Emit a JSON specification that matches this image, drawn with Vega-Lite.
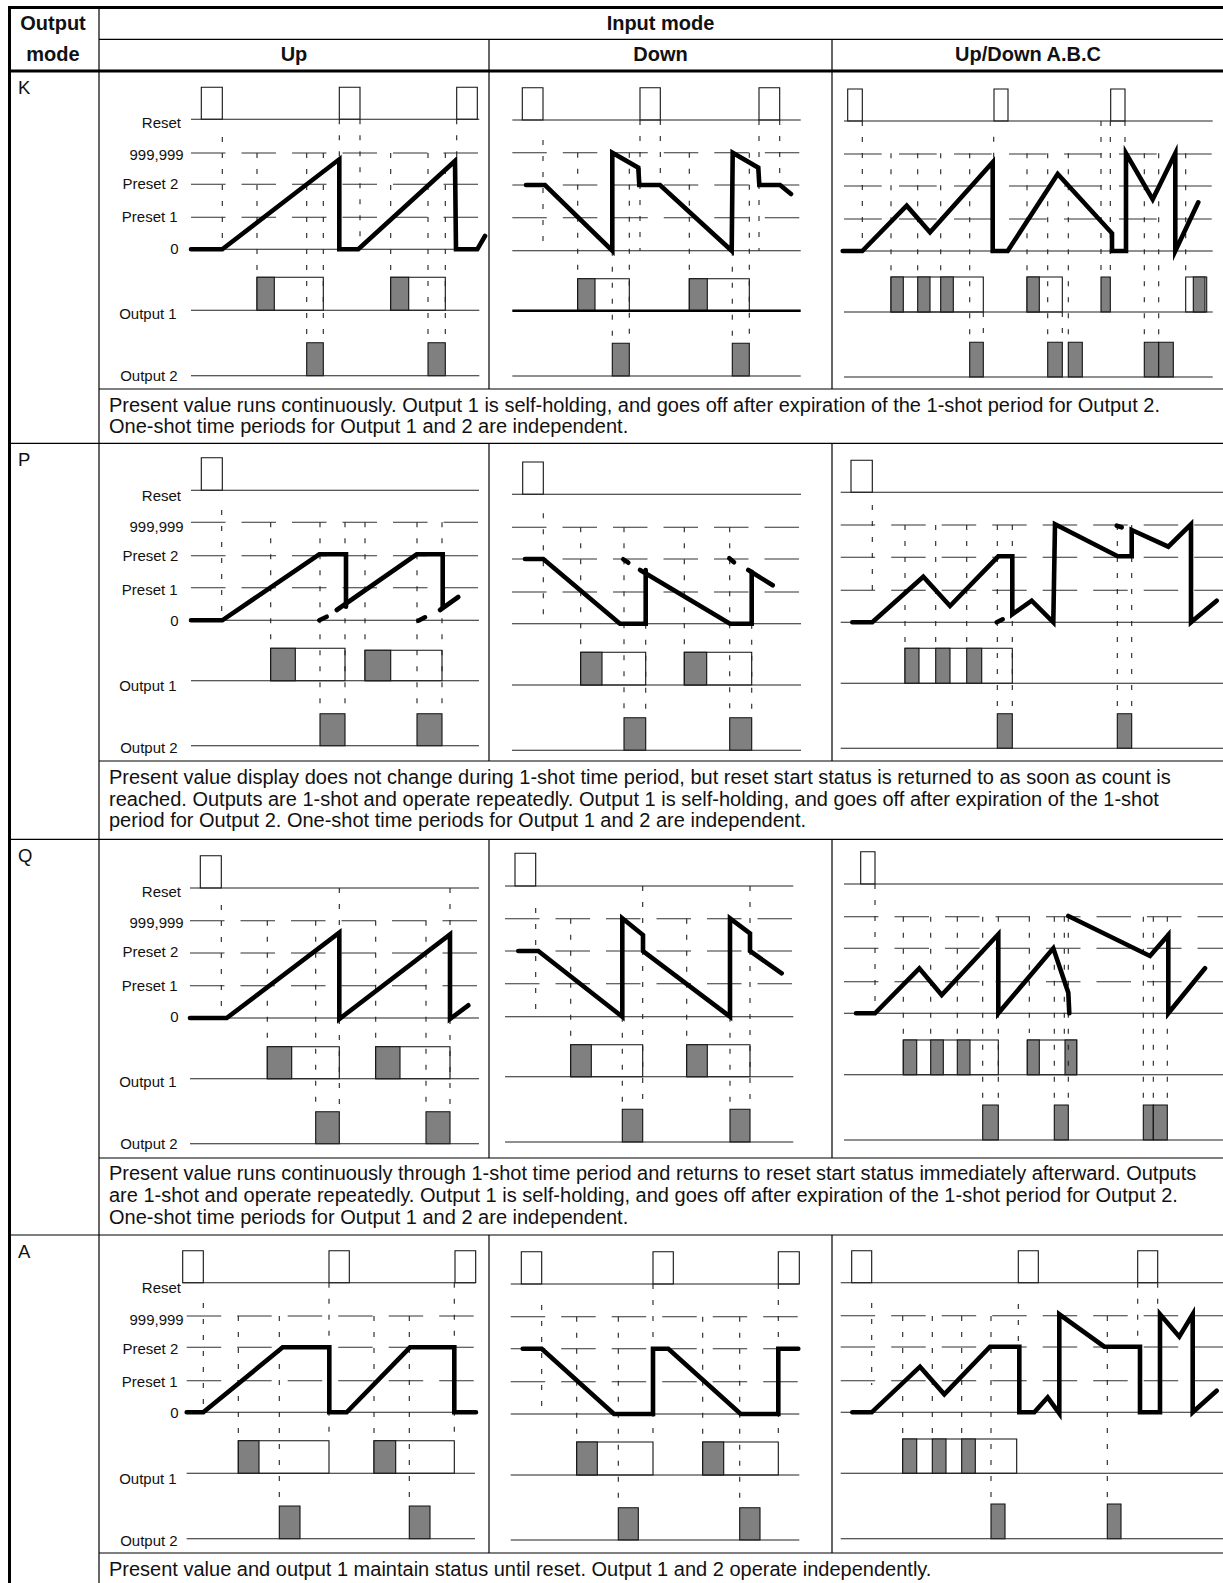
{
"$schema": "https://vega.github.io/schema/vega-lite/v6.json",
"width": 1223, "height": 1583,
"autosize": {"type": "none"},
"padding": 0,
"background": "white",
"config": {"view": {"stroke": null}},
"datasets": {
"gridthick": [
{"x":8,"x2":1223,"y":7.5,"y2":7.5},
{"x":9.5,"x2":9.5,"y":6,"y2":1583},
{"x":8,"x2":1223,"y":71,"y2":71}
],
"gridthin": [
{"x":99,"x2":99,"y":7.5,"y2":1583},
{"x":99,"x2":1223,"y":39.3,"y2":39.3},
{"x":489,"x2":489,"y":39.3,"y2":389},
{"x":832,"x2":832,"y":39.3,"y2":389},
{"x":489,"x2":489,"y":443.3,"y2":761},
{"x":832,"x2":832,"y":443.3,"y2":761},
{"x":489,"x2":489,"y":839.3,"y2":1158},
{"x":832,"x2":832,"y":839.3,"y2":1158},
{"x":489,"x2":489,"y":1235,"y2":1553},
{"x":832,"x2":832,"y":1235,"y2":1553},
{"x":99,"x2":1223,"y":389,"y2":389},
{"x":99,"x2":1223,"y":761,"y2":761},
{"x":99,"x2":1223,"y":1158,"y2":1158},
{"x":99,"x2":1223,"y":1553,"y2":1553},
{"x":9.5,"x2":1223,"y":443.3,"y2":443.3},
{"x":9.5,"x2":1223,"y":839.3,"y2":839.3},
{"x":9.5,"x2":1223,"y":1235,"y2":1235}
],
"base": [
{"x":191,"x2":479.3,"y":119.3},{"x":191,"x2":479.3,"y":249.3},{"x":191,"x2":479.3,"y":310.3},{"x":191,"x2":479.3,"y":375.7},
{"x":512.3,"x2":800.7,"y":120},{"x":512.3,"x2":800.7,"y":250.7},{"x":512.3,"x2":800.7,"y":376},
{"x":844,"x2":1212.7,"y":121},{"x":844,"x2":1212.7,"y":251},{"x":844,"x2":1212.7,"y":312},{"x":844,"x2":1212.7,"y":377},
{"x":191,"x2":479,"y":490.3},{"x":191,"x2":479,"y":620.3},{"x":191,"x2":479,"y":680.7},{"x":191,"x2":479,"y":745.7},
{"x":512,"x2":801,"y":494.3},{"x":512,"x2":801,"y":623.7},{"x":512,"x2":801,"y":685},{"x":512,"x2":801,"y":750.3},
{"x":840.7,"x2":1223,"y":492.3},{"x":840.7,"x2":1223,"y":622.3},{"x":840.7,"x2":1223,"y":683.3},{"x":840.7,"x2":1223,"y":748.3},
{"x":190,"x2":479,"y":888},{"x":190,"x2":479,"y":1018},{"x":190,"x2":479,"y":1078.7},{"x":190,"x2":479,"y":1143.7},
{"x":505,"x2":793.3,"y":886},{"x":505,"x2":793.3,"y":1016.7},{"x":505,"x2":793.3,"y":1076.7},{"x":505,"x2":793.3,"y":1142},
{"x":844,"x2":1223,"y":884},{"x":844,"x2":1223,"y":1013.3},{"x":844,"x2":1223,"y":1074.7},{"x":844,"x2":1223,"y":1140},
{"x":182.7,"x2":475,"y":1282.7},{"x":186.7,"x2":475,"y":1412.3},{"x":186.7,"x2":475,"y":1473.3},{"x":186.7,"x2":475,"y":1538.7},
{"x":510.7,"x2":799.3,"y":1284},{"x":510.7,"x2":799.3,"y":1414},{"x":510.7,"x2":799.3,"y":1475},{"x":510.7,"x2":799.3,"y":1540},
{"x":840.7,"x2":1223,"y":1282.7},{"x":840.7,"x2":1223,"y":1412.3},{"x":840.7,"x2":1223,"y":1473.3},{"x":840.7,"x2":1223,"y":1538.7}
],
"baseb": [{"x":512.3,"x2":800.7,"y":310.7}],
"lvl": [
{"x":191,"x2":479.3,"y":153},{"x":191,"x2":479.3,"y":184.3},{"x":191,"x2":479.3,"y":217.3},
{"x":512.3,"x2":800.7,"y":152.7},{"x":512.3,"x2":800.7,"y":185},{"x":512.3,"x2":800.7,"y":217.7},
{"x":191,"x2":479,"y":522.3},{"x":191,"x2":479,"y":555.7},{"x":191,"x2":479,"y":587.7},
{"x":512,"x2":801,"y":527.3},{"x":512,"x2":801,"y":559},{"x":512,"x2":801,"y":592},
{"x":840.7,"x2":1223,"y":525},{"x":840.7,"x2":1223,"y":557.3},{"x":840.7,"x2":1223,"y":590.3},
{"x":190,"x2":479,"y":920.7},{"x":190,"x2":479,"y":953},{"x":190,"x2":479,"y":985.7},
{"x":505,"x2":793.3,"y":918.7},{"x":505,"x2":793.3,"y":951},{"x":505,"x2":793.3,"y":983.7},
{"x":844,"x2":1223,"y":916.7},{"x":844,"x2":1223,"y":948.3},{"x":844,"x2":1223,"y":981.7},
{"x":186.7,"x2":475,"y":1316},{"x":186.7,"x2":475,"y":1347.3},{"x":186.7,"x2":475,"y":1380.7},
{"x":510.7,"x2":799.3,"y":1316.7},{"x":510.7,"x2":799.3,"y":1348.7},{"x":510.7,"x2":799.3,"y":1381.7},
{"x":840.7,"x2":1223,"y":1315.7},{"x":840.7,"x2":1223,"y":1347},{"x":840.7,"x2":1223,"y":1380.7}
],
"lvlb": [{"x":844,"x2":1212.7,"y":154},{"x":844,"x2":1212.7,"y":186},{"x":844,"x2":1212.7,"y":219}],
"vd": [
{"x":222.3,"y":137,"y2":249.3},{"x":257,"y":153,"y2":277.3},{"x":306.7,"y":153,"y2":342.7},{"x":323.3,"y":153,"y2":342.7},{"x":339.3,"y":119.3,"y2":159.3},{"x":360,"y":119.3,"y2":249.3},{"x":390.7,"y":153,"y2":277.3},{"x":428,"y":153,"y2":342.7},{"x":445.3,"y":153,"y2":342.7},{"x":456.7,"y":119.3,"y2":161},
{"x":543,"y":140,"y2":250.7},{"x":577.7,"y":152.7,"y2":278.7},{"x":612.3,"y":250.7,"y2":343.3},{"x":629.3,"y":152.7,"y2":343.3},{"x":640,"y":120,"y2":250.7},{"x":660.3,"y":120,"y2":185},{"x":689.3,"y":152.7,"y2":278.7},{"x":732.3,"y":250.7,"y2":343.3},{"x":749.3,"y":152.7,"y2":343.3},{"x":759,"y":120,"y2":250.7},{"x":779.7,"y":120,"y2":185},
{"x":862.3,"y":121,"y2":251},{"x":891,"y":153.3,"y2":277},{"x":917.7,"y":153.3,"y2":277},{"x":940.7,"y":153.3,"y2":277},{"x":969.7,"y":153.3,"y2":342.3},{"x":983.3,"y":312,"y2":342.3},{"x":993.7,"y":136.7,"y2":162.3},{"x":1027,"y":153.3,"y2":277},{"x":1047.7,"y":153.3,"y2":342.3},{"x":1062.3,"y":312,"y2":342.3},{"x":1068.3,"y":153.3,"y2":342.3},{"x":1101,"y":121,"y2":277},{"x":1110.3,"y":121,"y2":277},{"x":1125,"y":121,"y2":153.3},{"x":1144.3,"y":153.3,"y2":342.3},{"x":1158.7,"y":153.3,"y2":342.3},{"x":1185.7,"y":153.3,"y2":277},
{"x":221.7,"y":510,"y2":620.3},{"x":270.7,"y":522.3,"y2":648.3},{"x":320,"y":522.3,"y2":713.7},{"x":345,"y":522.3,"y2":713.7},{"x":365,"y":522.3,"y2":650.3},{"x":417,"y":522.3,"y2":713.7},{"x":442,"y":522.3,"y2":713.7},
{"x":543.3,"y":513.3,"y2":623.7},{"x":580.7,"y":527.3,"y2":652.3},{"x":624,"y":527.3,"y2":717.7},{"x":645.7,"y":623.7,"y2":717.7},{"x":684.3,"y":527.3,"y2":652.3},{"x":729.7,"y":527.3,"y2":717.7},{"x":751.7,"y":623.7,"y2":717.7},
{"x":872.3,"y":505,"y2":600},{"x":905,"y":525,"y2":648.3},{"x":935.7,"y":525,"y2":648.3},{"x":966.7,"y":525,"y2":648.3},{"x":997.3,"y":525,"y2":713.7},{"x":1012.3,"y":525,"y2":713.7},{"x":1117.3,"y":525,"y2":713.7},{"x":1131.7,"y":525,"y2":713.7},
{"x":221.3,"y":905,"y2":1018},{"x":267.3,"y":920.7,"y2":1046.7},{"x":315.7,"y":920.7,"y2":1111.7},{"x":339.3,"y":888,"y2":932.7},{"x":339.3,"y":1019,"y2":1111.7},{"x":375.7,"y":920.7,"y2":1046.7},{"x":426,"y":920.7,"y2":1111.7},{"x":450,"y":888,"y2":934.3},{"x":450,"y":1019,"y2":1111.7},
{"x":535.7,"y":908,"y2":1016.7},{"x":570.7,"y":918.7,"y2":1044.7},{"x":622.3,"y":1016.7,"y2":1109.3},{"x":642.7,"y":886,"y2":1109.3},{"x":686.7,"y":918.7,"y2":1044.7},{"x":730,"y":1016.7,"y2":1109.3},{"x":750,"y":886,"y2":1109.3},
{"x":875,"y":884,"y2":1013.3},{"x":903.3,"y":916.7,"y2":1040},{"x":930.7,"y":916.7,"y2":1040},{"x":957.3,"y":916.7,"y2":1040},{"x":982.7,"y":916.7,"y2":1105},{"x":998.3,"y":916.7,"y2":1105},{"x":1029.3,"y":916.7,"y2":1033},{"x":1054.3,"y":916.7,"y2":1105},{"x":1064.3,"y":916.7,"y2":1040},{"x":1068.3,"y":916.7,"y2":1105},{"x":1143.3,"y":916.7,"y2":1105},{"x":1153.3,"y":916.7,"y2":1105},{"x":1167.3,"y":916.7,"y2":1105},
{"x":203.3,"y":1303,"y2":1412.3},{"x":238.3,"y":1316,"y2":1440.7},{"x":279.3,"y":1316,"y2":1506},{"x":329,"y":1282.7,"y2":1440.7},{"x":374,"y":1316,"y2":1440.7},{"x":409.3,"y":1316,"y2":1506},{"x":454.3,"y":1282.7,"y2":1440.7},
{"x":541.7,"y":1305,"y2":1414},{"x":576.7,"y":1316.7,"y2":1442},{"x":618.3,"y":1316.7,"y2":1507.7},{"x":653,"y":1284,"y2":1442},{"x":702.7,"y":1316.7,"y2":1442},{"x":739.7,"y":1316.7,"y2":1507.7},{"x":778.3,"y":1284,"y2":1442},
{"x":871.7,"y":1303,"y2":1385},{"x":902.7,"y":1316,"y2":1439},{"x":932.3,"y":1316,"y2":1439},{"x":961.7,"y":1316,"y2":1439},{"x":991,"y":1316,"y2":1504},{"x":1018.3,"y":1304,"y2":1347},{"x":1107.3,"y":1316,"y2":1504},{"x":1137.7,"y":1282.7,"y2":1347},{"x":1157.7,"y":1282.7,"y2":1314}
],
"rst": [
{"x":201.3,"x2":222.3,"y":87.3,"y2":119.3},{"x":339.3,"x2":360,"y":87.3,"y2":119.3},{"x":456.7,"x2":477.3,"y":87.3,"y2":119.3},
{"x":522.3,"x2":543,"y":87.7,"y2":120},{"x":640,"x2":660.3,"y":87.7,"y2":120},{"x":759,"x2":779.7,"y":87.7,"y2":120},
{"x":847.7,"x2":862.3,"y":89,"y2":121},{"x":994,"x2":1008,"y":89,"y2":121},{"x":1110.7,"x2":1125,"y":89,"y2":121},
{"x":201.3,"x2":222.3,"y":457.7,"y2":490.3},
{"x":522.7,"x2":543.3,"y":462,"y2":494.3},
{"x":851,"x2":872.3,"y":460.3,"y2":492.3},
{"x":200.3,"x2":221.3,"y":855.7,"y2":888},
{"x":515,"x2":535.7,"y":853.3,"y2":886},
{"x":860.7,"x2":875,"y":851.7,"y2":884},
{"x":182.7,"x2":203.3,"y":1250.7,"y2":1282.7},{"x":329,"x2":349.3,"y":1250.7,"y2":1282.7},{"x":455,"x2":475.7,"y":1250.7,"y2":1282.7},
{"x":521.3,"x2":541.7,"y":1251.7,"y2":1284},{"x":653,"x2":673.3,"y":1251.7,"y2":1284},{"x":778.3,"x2":799.3,"y":1251.7,"y2":1284},
{"x":851.7,"x2":871.7,"y":1250.7,"y2":1282.7},{"x":1018.3,"x2":1038.3,"y":1250.7,"y2":1282.7},{"x":1137.7,"x2":1157.7,"y":1250.7,"y2":1282.7}
],
"ow": [
{"x":257,"x2":323.3,"y":277.3,"y2":310.3},{"x":390.7,"x2":445.3,"y":277.3,"y2":310.3},
{"x":577.7,"x2":629.3,"y":278.7,"y2":310.7},{"x":689.3,"x2":749.3,"y":278.7,"y2":310.7},
{"x":891,"x2":983.3,"y":277,"y2":312},{"x":1027,"x2":1062.3,"y":277,"y2":312},{"x":1185.7,"x2":1206.7,"y":277,"y2":312},
{"x":270.7,"x2":345,"y":648.3,"y2":680.7},{"x":365,"x2":442,"y":650.3,"y2":680.7},
{"x":580.7,"x2":645.7,"y":652.3,"y2":685},{"x":684.3,"x2":751.7,"y":652.3,"y2":685},
{"x":905,"x2":1012.3,"y":648.3,"y2":683.3},
{"x":267.3,"x2":339.3,"y":1046.7,"y2":1078.7},{"x":375.7,"x2":450,"y":1046.7,"y2":1078.7},
{"x":570.7,"x2":642.7,"y":1044.7,"y2":1076.7},{"x":686.7,"x2":750,"y":1044.7,"y2":1076.7},
{"x":903.3,"x2":998.3,"y":1040,"y2":1074.7},{"x":1027.3,"x2":1076.7,"y":1040,"y2":1074.7},
{"x":238.3,"x2":329,"y":1440.7,"y2":1473.3},{"x":374,"x2":454.3,"y":1440.7,"y2":1473.3},
{"x":576.7,"x2":653,"y":1442,"y2":1475},{"x":702.7,"x2":778.3,"y":1442,"y2":1475},
{"x":902.7,"x2":1016.7,"y":1439,"y2":1473.3}
],
"og": [
{"x":257,"x2":274.3,"y":277.3,"y2":310.3},{"x":390.7,"x2":408.7,"y":277.3,"y2":310.3},{"x":306.7,"x2":323.3,"y":342.7,"y2":375.7},{"x":428,"x2":445.3,"y":342.7,"y2":375.7},
{"x":577.7,"x2":595,"y":278.7,"y2":310.7},{"x":689.3,"x2":707.3,"y":278.7,"y2":310.7},{"x":612.3,"x2":629.3,"y":343.3,"y2":376},{"x":732.3,"x2":749.3,"y":343.3,"y2":376},
{"x":891,"x2":903.3,"y":277,"y2":312},{"x":917.7,"x2":930,"y":277,"y2":312},{"x":940.7,"x2":953.3,"y":277,"y2":312},{"x":1027,"x2":1039.3,"y":277,"y2":312},{"x":1101,"x2":1110.3,"y":277,"y2":312},{"x":1193.3,"x2":1205,"y":277,"y2":312},
{"x":969.7,"x2":983.3,"y":342.3,"y2":377},{"x":1047.7,"x2":1062.3,"y":342.3,"y2":377},{"x":1068.3,"x2":1082.3,"y":342.3,"y2":377},{"x":1144.3,"x2":1158.7,"y":342.3,"y2":377},{"x":1158.7,"x2":1173.3,"y":342.3,"y2":377},
{"x":270.7,"x2":295.3,"y":648.3,"y2":680.7},{"x":365,"x2":390.7,"y":650.3,"y2":680.7},{"x":320,"x2":345,"y":713.7,"y2":745.7},{"x":417,"x2":442,"y":713.7,"y2":745.7},
{"x":580.7,"x2":602,"y":652.3,"y2":685},{"x":684.3,"x2":706.7,"y":652.3,"y2":685},{"x":624,"x2":645.7,"y":717.7,"y2":750.3},{"x":729.7,"x2":751.7,"y":717.7,"y2":750.3},
{"x":905,"x2":919,"y":648.3,"y2":683.3},{"x":935.7,"x2":950,"y":648.3,"y2":683.3},{"x":966.7,"x2":981.7,"y":648.3,"y2":683.3},{"x":997.3,"x2":1012.3,"y":713.7,"y2":748.3},{"x":1117.3,"x2":1131.7,"y":713.7,"y2":748.3},
{"x":267.3,"x2":291.7,"y":1046.7,"y2":1078.7},{"x":375.7,"x2":400,"y":1046.7,"y2":1078.7},{"x":315.7,"x2":339.3,"y":1111.7,"y2":1143.7},{"x":426,"x2":450,"y":1111.7,"y2":1143.7},
{"x":570.7,"x2":591.3,"y":1044.7,"y2":1076.7},{"x":686.7,"x2":707.3,"y":1044.7,"y2":1076.7},{"x":622.3,"x2":642.7,"y":1109.3,"y2":1142},{"x":730,"x2":750,"y":1109.3,"y2":1142},
{"x":903.3,"x2":916.7,"y":1040,"y2":1074.7},{"x":930.7,"x2":943.3,"y":1040,"y2":1074.7},{"x":957.3,"x2":970,"y":1040,"y2":1074.7},{"x":1027.3,"x2":1039.3,"y":1040,"y2":1074.7},{"x":1065,"x2":1076.7,"y":1040,"y2":1074.7},
{"x":982.7,"x2":998.3,"y":1105,"y2":1140},{"x":1054.3,"x2":1068.3,"y":1105,"y2":1140},{"x":1143.3,"x2":1153.3,"y":1105,"y2":1140},{"x":1153.3,"x2":1167.3,"y":1105,"y2":1140},
{"x":238.3,"x2":259,"y":1440.7,"y2":1473.3},{"x":374,"x2":395.7,"y":1440.7,"y2":1473.3},{"x":279.3,"x2":300,"y":1506,"y2":1538.7},{"x":409.3,"x2":430,"y":1506,"y2":1538.7},
{"x":576.7,"x2":597.3,"y":1442,"y2":1475},{"x":702.7,"x2":723.7,"y":1442,"y2":1475},{"x":618.3,"x2":638.3,"y":1507.7,"y2":1540},{"x":739.7,"x2":760,"y":1507.7,"y2":1540},
{"x":902.7,"x2":916.7,"y":1439,"y2":1473.3},{"x":932.3,"x2":946,"y":1439,"y2":1473.3},{"x":961.7,"x2":975.3,"y":1439,"y2":1473.3},{"x":991,"x2":1005,"y":1504,"y2":1538.7},{"x":1107.3,"x2":1121,"y":1504,"y2":1538.7}
],
"pv": [
{"s":"KU","i":0,"x":191,"y":249.3},{"s":"KU","i":1,"x":222.3,"y":249.3},{"s":"KU","i":2,"x":339.3,"y":159.3},{"s":"KU","i":3,"x":339.3,"y":249.3},{"s":"KU","i":4,"x":358.3,"y":249.3},{"s":"KU","i":5,"x":455,"y":161},{"s":"KU","i":6,"x":456,"y":249.3},{"s":"KU","i":7,"x":477.3,"y":249.3},{"s":"KU","i":8,"x":485,"y":236},
{"s":"KD","i":0,"x":526,"y":185},{"s":"KD","i":1,"x":545,"y":185},{"s":"KD","i":2,"x":612.3,"y":250.7},{"s":"KD","i":3,"x":612.3,"y":152.7},{"s":"KD","i":4,"x":638.3,"y":167.7},{"s":"KD","i":5,"x":639.3,"y":185},{"s":"KD","i":6,"x":660,"y":185},{"s":"KD","i":7,"x":731.7,"y":250.7},{"s":"KD","i":8,"x":732.7,"y":152.7},{"s":"KD","i":9,"x":758.3,"y":167.7},{"s":"KD","i":10,"x":759.3,"y":185},{"s":"KD","i":11,"x":780,"y":185},{"s":"KD","i":12,"x":791,"y":194},
{"s":"KUD","i":0,"x":842.7,"y":251},{"s":"KUD","i":1,"x":862.3,"y":251},{"s":"KUD","i":2,"x":906.7,"y":205.7},{"s":"KUD","i":3,"x":930,"y":232.3},{"s":"KUD","i":4,"x":992.7,"y":162.3},{"s":"KUD","i":5,"x":992.7,"y":251},{"s":"KUD","i":6,"x":1007.7,"y":251},{"s":"KUD","i":7,"x":1057.7,"y":174},{"s":"KUD","i":8,"x":1112,"y":233.3},{"s":"KUD","i":9,"x":1112,"y":251},{"s":"KUD","i":10,"x":1126,"y":251},{"s":"KUD","i":11,"x":1126,"y":153.3},{"s":"KUD","i":12,"x":1152.7,"y":199.3},{"s":"KUD","i":13,"x":1175.3,"y":153.3},{"s":"KUD","i":14,"x":1175.3,"y":251},{"s":"KUD","i":15,"x":1198.3,"y":202.3},
{"s":"PU1","i":0,"x":191,"y":620.3},{"s":"PU1","i":1,"x":222.3,"y":620.3},{"s":"PU1","i":2,"x":319.3,"y":554.3},{"s":"PU1","i":3,"x":346,"y":554.3},{"s":"PU1","i":4,"x":346,"y":606.7},
{"s":"PU2","i":0,"x":336.7,"y":610},{"s":"PU2","i":1,"x":416.7,"y":554.3},{"s":"PU2","i":2,"x":442.7,"y":554.3},{"s":"PU2","i":3,"x":442.7,"y":606.7},
{"s":"PU3","i":0,"x":440,"y":610},{"s":"PU3","i":1,"x":458.3,"y":597},
{"s":"PU4","i":0,"x":319.3,"y":620.3},{"s":"PU4","i":1,"x":326.7,"y":616.7},
{"s":"PU5","i":0,"x":418.3,"y":620.7},{"s":"PU5","i":1,"x":425,"y":617.3},
{"s":"PD1","i":0,"x":525,"y":559},{"s":"PD1","i":1,"x":543.3,"y":559},{"s":"PD1","i":2,"x":620,"y":623.7},{"s":"PD1","i":3,"x":645.7,"y":623.7},{"s":"PD1","i":4,"x":645.7,"y":570},
{"s":"PD2","i":0,"x":640,"y":570},{"s":"PD2","i":1,"x":730,"y":623.7},{"s":"PD2","i":2,"x":751.7,"y":623.7},{"s":"PD2","i":3,"x":751.7,"y":571.7},
{"s":"PD3","i":0,"x":748.3,"y":570},{"s":"PD3","i":1,"x":772.7,"y":585.3},
{"s":"PD4","i":0,"x":623.3,"y":559.3},{"s":"PD4","i":1,"x":628.3,"y":562.7},
{"s":"PD5","i":0,"x":729.3,"y":558.3},{"s":"PD5","i":1,"x":734,"y":562.3},
{"s":"PUD1","i":0,"x":852.3,"y":622.3},{"s":"PUD1","i":1,"x":872.3,"y":622.3},{"s":"PUD1","i":2,"x":923.3,"y":576.7},{"s":"PUD1","i":3,"x":950,"y":606},{"s":"PUD1","i":4,"x":998.3,"y":556.3},{"s":"PUD1","i":5,"x":1012.3,"y":556.3},{"s":"PUD1","i":6,"x":1012.3,"y":614.3},{"s":"PUD1","i":7,"x":1031.7,"y":600.7},{"s":"PUD1","i":8,"x":1053.3,"y":622.3},{"s":"PUD1","i":9,"x":1055,"y":524.3},{"s":"PUD1","i":10,"x":1117.7,"y":556.3},{"s":"PUD1","i":11,"x":1131.7,"y":556.3},{"s":"PUD1","i":12,"x":1131.7,"y":530},{"s":"PUD1","i":13,"x":1168.3,"y":546.7},{"s":"PUD1","i":14,"x":1191,"y":524.3},{"s":"PUD1","i":15,"x":1191,"y":622.3},{"s":"PUD1","i":16,"x":1216.7,"y":600.7},
{"s":"PUD2","i":0,"x":996.7,"y":622.3},{"s":"PUD2","i":1,"x":1002.7,"y":619.3},
{"s":"PUD3","i":0,"x":1116.7,"y":525.7},{"s":"PUD3","i":1,"x":1121.7,"y":527.3},
{"s":"QU","i":0,"x":190,"y":1018},{"s":"QU","i":1,"x":226.7,"y":1018},{"s":"QU","i":2,"x":339.3,"y":932.7},{"s":"QU","i":3,"x":339.3,"y":1019},{"s":"QU","i":4,"x":450,"y":934.3},{"s":"QU","i":5,"x":450,"y":1019},{"s":"QU","i":6,"x":468.3,"y":1005.3},
{"s":"QD","i":0,"x":518.3,"y":951},{"s":"QD","i":1,"x":538.3,"y":951},{"s":"QD","i":2,"x":622.3,"y":1016.7},{"s":"QD","i":3,"x":622.3,"y":918.3},{"s":"QD","i":4,"x":643,"y":935},{"s":"QD","i":5,"x":643,"y":951},{"s":"QD","i":6,"x":730,"y":1016.7},{"s":"QD","i":7,"x":730,"y":918.3},{"s":"QD","i":8,"x":750,"y":933.3},{"s":"QD","i":9,"x":750,"y":951},{"s":"QD","i":10,"x":781.7,"y":973.3},
{"s":"QUD1","i":0,"x":856,"y":1013.3},{"s":"QUD1","i":1,"x":875,"y":1013.3},{"s":"QUD1","i":2,"x":919.3,"y":968.3},{"s":"QUD1","i":3,"x":941.7,"y":995},{"s":"QUD1","i":4,"x":998.3,"y":934.3},{"s":"QUD1","i":5,"x":998.3,"y":1013.3},{"s":"QUD1","i":6,"x":1053.3,"y":948.3},{"s":"QUD1","i":7,"x":1068.3,"y":992.7},{"s":"QUD1","i":8,"x":1069.3,"y":1013.3},
{"s":"QUD2","i":0,"x":1068.3,"y":916},{"s":"QUD2","i":1,"x":1150,"y":956},{"s":"QUD2","i":2,"x":1168.3,"y":935},{"s":"QUD2","i":3,"x":1168.3,"y":1013.3},{"s":"QUD2","i":4,"x":1205,"y":968.3},
{"s":"AU","i":0,"x":186.7,"y":1412.3},{"s":"AU","i":1,"x":203.3,"y":1412.3},{"s":"AU","i":2,"x":282.7,"y":1347.3},{"s":"AU","i":3,"x":329.3,"y":1347.3},{"s":"AU","i":4,"x":329.3,"y":1412.3},{"s":"AU","i":5,"x":346.7,"y":1412.3},{"s":"AU","i":6,"x":410,"y":1347.3},{"s":"AU","i":7,"x":454.3,"y":1347.3},{"s":"AU","i":8,"x":454.3,"y":1412.3},{"s":"AU","i":9,"x":476,"y":1412.3},
{"s":"AD","i":0,"x":522.7,"y":1348.7},{"s":"AD","i":1,"x":541.7,"y":1348.7},{"s":"AD","i":2,"x":614,"y":1414},{"s":"AD","i":3,"x":653,"y":1414},{"s":"AD","i":4,"x":653,"y":1348.7},{"s":"AD","i":5,"x":668.3,"y":1348.7},{"s":"AD","i":6,"x":740.7,"y":1414},{"s":"AD","i":7,"x":778.3,"y":1414},{"s":"AD","i":8,"x":778.3,"y":1348.7},{"s":"AD","i":9,"x":798.3,"y":1348.7},
{"s":"AUD","i":0,"x":852.3,"y":1412.3},{"s":"AUD","i":1,"x":871.7,"y":1412.3},{"s":"AUD","i":2,"x":920,"y":1366.7},{"s":"AUD","i":3,"x":944.3,"y":1394.3},{"s":"AUD","i":4,"x":990,"y":1346.7},{"s":"AUD","i":5,"x":1019.3,"y":1346.7},{"s":"AUD","i":6,"x":1019.3,"y":1412.3},{"s":"AUD","i":7,"x":1034.3,"y":1412.3},{"s":"AUD","i":8,"x":1047.7,"y":1397.3},{"s":"AUD","i":9,"x":1059.3,"y":1413.3},{"s":"AUD","i":10,"x":1059.3,"y":1314.3},{"s":"AUD","i":11,"x":1104.3,"y":1346.7},{"s":"AUD","i":12,"x":1140,"y":1346.7},{"s":"AUD","i":13,"x":1140,"y":1412.3},{"s":"AUD","i":14,"x":1160,"y":1412.3},{"s":"AUD","i":15,"x":1160,"y":1314.3},{"s":"AUD","i":16,"x":1179.3,"y":1336.7},{"s":"AUD","i":17,"x":1192.7,"y":1314.3},{"s":"AUD","i":18,"x":1192.7,"y":1412.3},{"s":"AUD","i":19,"x":1216.7,"y":1390.7}
],
"lbl": [
{"t":"Reset","x":181,"y":123.3},{"t":"999,999","x":183.7,"y":155.3},{"t":"Preset 2","x":178.3,"y":183.7},{"t":"Preset 1","x":177.7,"y":217},{"t":"0","x":178.7,"y":249},{"t":"Output 1","x":176.7,"y":314},{"t":"Output 2","x":177.7,"y":376},
{"t":"Reset","x":181,"y":496},{"t":"999,999","x":183.7,"y":526.7},{"t":"Preset 2","x":178.3,"y":555.7},{"t":"Preset 1","x":177.7,"y":590},{"t":"0","x":178.7,"y":621},{"t":"Output 1","x":176.7,"y":686},{"t":"Output 2","x":177.7,"y":748.3},
{"t":"Reset","x":181,"y":891.7},{"t":"999,999","x":183.7,"y":923.3},{"t":"Preset 2","x":178.3,"y":952},{"t":"Preset 1","x":177.7,"y":985.7},{"t":"0","x":178.7,"y":1017.3},{"t":"Output 1","x":176.7,"y":1082},{"t":"Output 2","x":177.7,"y":1144.3},
{"t":"Reset","x":181,"y":1288.3},{"t":"999,999","x":183.7,"y":1320},{"t":"Preset 2","x":178.3,"y":1348.7},{"t":"Preset 1","x":177.7,"y":1382},{"t":"0","x":178.7,"y":1413.3},{"t":"Output 1","x":176.7,"y":1478.7},{"t":"Output 2","x":177.7,"y":1541}
],
"desc": [
{"t":"Present value runs continuously. Output 1 is self-holding, and goes off after expiration of the 1-shot period for Output 2.","x":109,"y":405.7},
{"t":"One-shot time periods for Output 1 and 2 are independent.","x":109,"y":427},
{"t":"Present value display does not change during 1-shot time period, but reset start status is returned to as soon as count is","x":109,"y":778.3},
{"t":"reached. Outputs are 1-shot and operate repeatedly. Output 1 is self-holding, and goes off after expiration of the 1-shot","x":109,"y":800},
{"t":"period for Output 2. One-shot time periods for Output 1 and 2 are independent.","x":109,"y":820.5},
{"t":"Present value runs continuously through 1-shot time period and returns to reset start status immediately afterward. Outputs","x":109,"y":1174.3},
{"t":"are 1-shot and operate repeatedly. Output 1 is self-holding, and goes off after expiration of the 1-shot period for Output 2.","x":109,"y":1195.7},
{"t":"One-shot time periods for Output 1 and 2 are independent.","x":109,"y":1217.5},
{"t":"Present value and output 1 maintain status until reset. Output 1 and 2 operate independently.","x":109,"y":1570}
],
"hdr": [
{"t":"Output","x":53,"y":24},{"t":"mode","x":53,"y":55},{"t":"Input mode","x":660.5,"y":23.5},
{"t":"Up","x":294,"y":55},{"t":"Down","x":660.5,"y":55},{"t":"Up/Down A.B.C","x":1028,"y":55}
],
"rowl": [
{"t":"K","x":18,"y":87.5},{"t":"P","x":18,"y":459.5},{"t":"Q","x":18,"y":855.5},{"t":"A","x":18,"y":1252}
]
},
"encoding": {
"x": {"field": "x", "type": "quantitative", "scale": {"domain": [0, 1223], "nice": false, "zero": false}, "axis": null},
"y": {"field": "y", "type": "quantitative", "scale": {"domain": [0, 1583], "nice": false, "zero": false, "reverse": true}, "axis": null}
},
"layer": [
{"data": {"name": "ow"}, "mark": {"type": "rect", "fill": "white", "stroke": "#111", "strokeWidth": 1.1}, "encoding": {"x2": {"field": "x2"}, "y2": {"field": "y2"}}},
{"data": {"name": "og"}, "mark": {"type": "rect", "fill": "#808080", "stroke": "#111", "strokeWidth": 1.1}, "encoding": {"x2": {"field": "x2"}, "y2": {"field": "y2"}}},
{"data": {"name": "rst"}, "mark": {"type": "rect", "fill": "white", "stroke": "#111", "strokeWidth": 1.1}, "encoding": {"x2": {"field": "x2"}, "y2": {"field": "y2"}}},
{"data": {"name": "base"}, "mark": {"type": "rule", "stroke": "#222", "strokeWidth": 1.1}, "encoding": {"x2": {"field": "x2"}}},
{"data": {"name": "baseb"}, "mark": {"type": "rule", "stroke": "#000", "strokeWidth": 2.4}, "encoding": {"x2": {"field": "x2"}}},
{"data": {"name": "lvl"}, "mark": {"type": "rule", "stroke": "#333", "strokeWidth": 1.1, "strokeDash": [34.5, 16]}, "encoding": {"x2": {"field": "x2"}}},
{"data": {"name": "lvlb"}, "mark": {"type": "rule", "stroke": "#333", "strokeWidth": 1.1, "strokeDash": [37.7, 17.3]}, "encoding": {"x2": {"field": "x2"}}},
{"data": {"name": "vd"}, "mark": {"type": "rule", "stroke": "#222", "strokeWidth": 1.1, "strokeDash": [5, 11]}, "encoding": {"y2": {"field": "y2"}}},
{"data": {"name": "gridthin"}, "mark": {"type": "rule", "stroke": "#000", "strokeWidth": 1.2}, "encoding": {"x2": {"field": "x2"}, "y2": {"field": "y2"}}},
{"data": {"name": "gridthick"}, "mark": {"type": "rule", "stroke": "#000", "strokeWidth": 3}, "encoding": {"x2": {"field": "x2"}, "y2": {"field": "y2"}}},
{"data": {"name": "pv"}, "mark": {"type": "line", "stroke": "#000", "strokeWidth": 4.6, "strokeCap": "round", "strokeJoin": "miter", "strokeMiterLimit": 10}, "encoding": {"detail": {"field": "s"}, "order": {"field": "i", "type": "quantitative"}}},
{"data": {"name": "lbl"}, "mark": {"type": "text", "align": "right", "baseline": "middle", "font": "Liberation Sans", "fontSize": 15, "fill": "#111"}, "encoding": {"text": {"field": "t"}}},
{"data": {"name": "desc"}, "mark": {"type": "text", "align": "left", "baseline": "middle", "font": "Liberation Sans", "fontSize": 20, "fill": "#111"}, "encoding": {"text": {"field": "t"}}},
{"data": {"name": "hdr"}, "mark": {"type": "text", "align": "center", "baseline": "middle", "font": "Liberation Sans", "fontSize": 20, "fontWeight": "bold", "fill": "#111"}, "encoding": {"text": {"field": "t"}}},
{"data": {"name": "rowl"}, "mark": {"type": "text", "align": "left", "baseline": "middle", "font": "Liberation Sans", "fontSize": 18.5, "fill": "#111"}, "encoding": {"text": {"field": "t"}}}
]
}
